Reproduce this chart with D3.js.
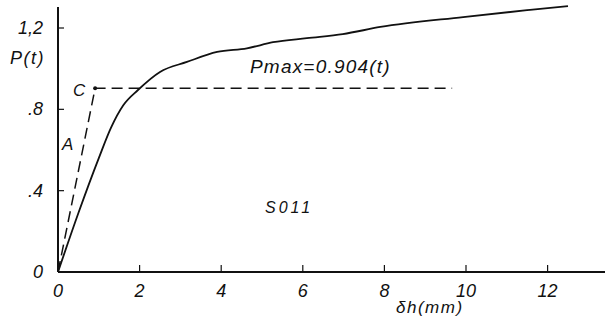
<!DOCTYPE html>
<html>
<head>
<meta charset="utf-8">
<script src="https://cdn.jsdelivr.net/npm/d3@7"></script>
<style>
  body { margin: 0; background: #fff; }
  text { font-family: "Liberation Sans", "DejaVu Sans", sans-serif; font-style: italic; fill: #111; }
</style>
</head>
<body>
<div id="chart"></div>
<script>
/* load-displacement curve, specimen S011 */
const curveX = [0, 0.5, 1.0, 1.3, 1.6, 1.96, 2.5, 3.16, 3.9, 4.63, 5.27, 6.1, 6.98, 7.9, 9.93, 11.57, 12.5];
const curveP = [0, 0.29, 0.56, 0.71, 0.82, 0.895, 0.984, 1.033, 1.082, 1.10, 1.13, 1.15, 1.17, 1.205, 1.254, 1.289, 1.308];

// idealised elastic-plastic line O -> C -> end
const idealX = [0, 0.91, 9.66];
const idealP = [0, 0.904, 0.904];

const xTicks = [0, 2, 4, 6, 8, 10, 12];
const yTicks = [0, 0.4, 0.8, 1.2];
const yTickLabels = ["0", ".4", ".8", "1,2"];

const width = 605, height = 320;

let svg = d3.select("#chart").append("svg")
  .attr("width", width)
  .attr("height", height);

let x = d3.scaleLinear().domain([0, 1]).range([58, 98.8]);
let y = d3.scaleLinear().domain([0, 1.2]).range([272, 28]);

// axes
svg.append("line")
  .attr("x1", x(0)).attr("x2", width)
  .attr("y1", y(0)).attr("y2", y(0))
  .attr("stroke", "#111").attr("stroke-width", 2);
svg.append("line")
  .attr("x1", x(0)).attr("x2", x(0))
  .attr("y1", y(0)).attr("y2", 7)
  .attr("stroke", "#111").attr("stroke-width", 2);

// x ticks (pointing up) + labels
svg.selectAll(".xtick").data(xTicks.slice(1)).enter().append("line")
  .attr("class", "xtick")
  .attr("x1", d => x(d)).attr("x2", d => x(d))
  .attr("y1", y(0)).attr("y2", y(0) - 7)
  .attr("stroke", "#111").attr("stroke-width", 1.2);
svg.selectAll(".xlab").data(xTicks).enter().append("text")
  .attr("class", "xlab")
  .attr("x", d => x(d))
  .attr("y", 297)
  .attr("text-anchor", "middle")
  .style("font-size", "18px")
  .text(d => d);

// y ticks (pointing right) + labels
svg.selectAll(".ytick").data(yTicks.slice(1)).enter().append("line")
  .attr("class", "ytick")
  .attr("x1", x(0)).attr("x2", x(0) + 6)
  .attr("y1", d => y(d)).attr("y2", d => y(d))
  .attr("stroke", "#111").attr("stroke-width", 1.2);
svg.selectAll(".ylab").data(yTicks).enter().append("text")
  .attr("class", "ylab")
  .attr("x", 43)
  .attr("y", d => y(d) + 6)
  .attr("text-anchor", "end")
  .style("font-size", "18px")
  .text((d, i) => yTickLabels[i]);

// axis titles
svg.append("text").attr("x", 10).attr("y", 64)
  .style("font-size", "18px").style("letter-spacing", "1.5px").text("P(t)");
svg.append("text").attr("x", 396).attr("y", 313)
  .style("font-size", "17px").style("letter-spacing", "1.5px").text("δh(mm)");

// dashed idealised line
let line = d3.line().x(d => x(d[0])).y(d => y(d[1]));
svg.append("path")
  .datum(idealX.map((d, i) => [d, idealP[i]]))
  .attr("d", line)
  .attr("fill", "none")
  .attr("stroke", "#111")
  .attr("stroke-width", 1.5)
  .attr("stroke-dasharray", "11,6");

svg.append("circle")
  .attr("cx", x(idealX[1])).attr("cy", y(idealP[1]))
  .attr("r", 2).attr("fill", "#111");

// measured curve
let curve = d3.line().curve(d3.curveMonotoneX).x(d => x(d[0])).y(d => y(d[1]));
svg.append("path")
  .datum(curveX.map((d, i) => [d, curveP[i]]))
  .attr("d", curve)
  .attr("fill", "none")
  .attr("stroke", "#111")
  .attr("stroke-width", 1.8);

// annotations
svg.append("text").attr("x", 73).attr("y", 96)
  .style("font-size", "17px").text("C");
svg.append("text").attr("x", 62).attr("y", 150)
  .style("font-size", "17px").text("A");
svg.append("text").attr("x", 250).attr("y", 73)
  .style("font-size", "19px").style("letter-spacing", "1.2px").text("Pmax=0.904(t)");
svg.append("text").attr("x", 265).attr("y", 213)
  .style("font-size", "16px").style("letter-spacing", "3px").text("S011");
</script>
</body>
</html>
